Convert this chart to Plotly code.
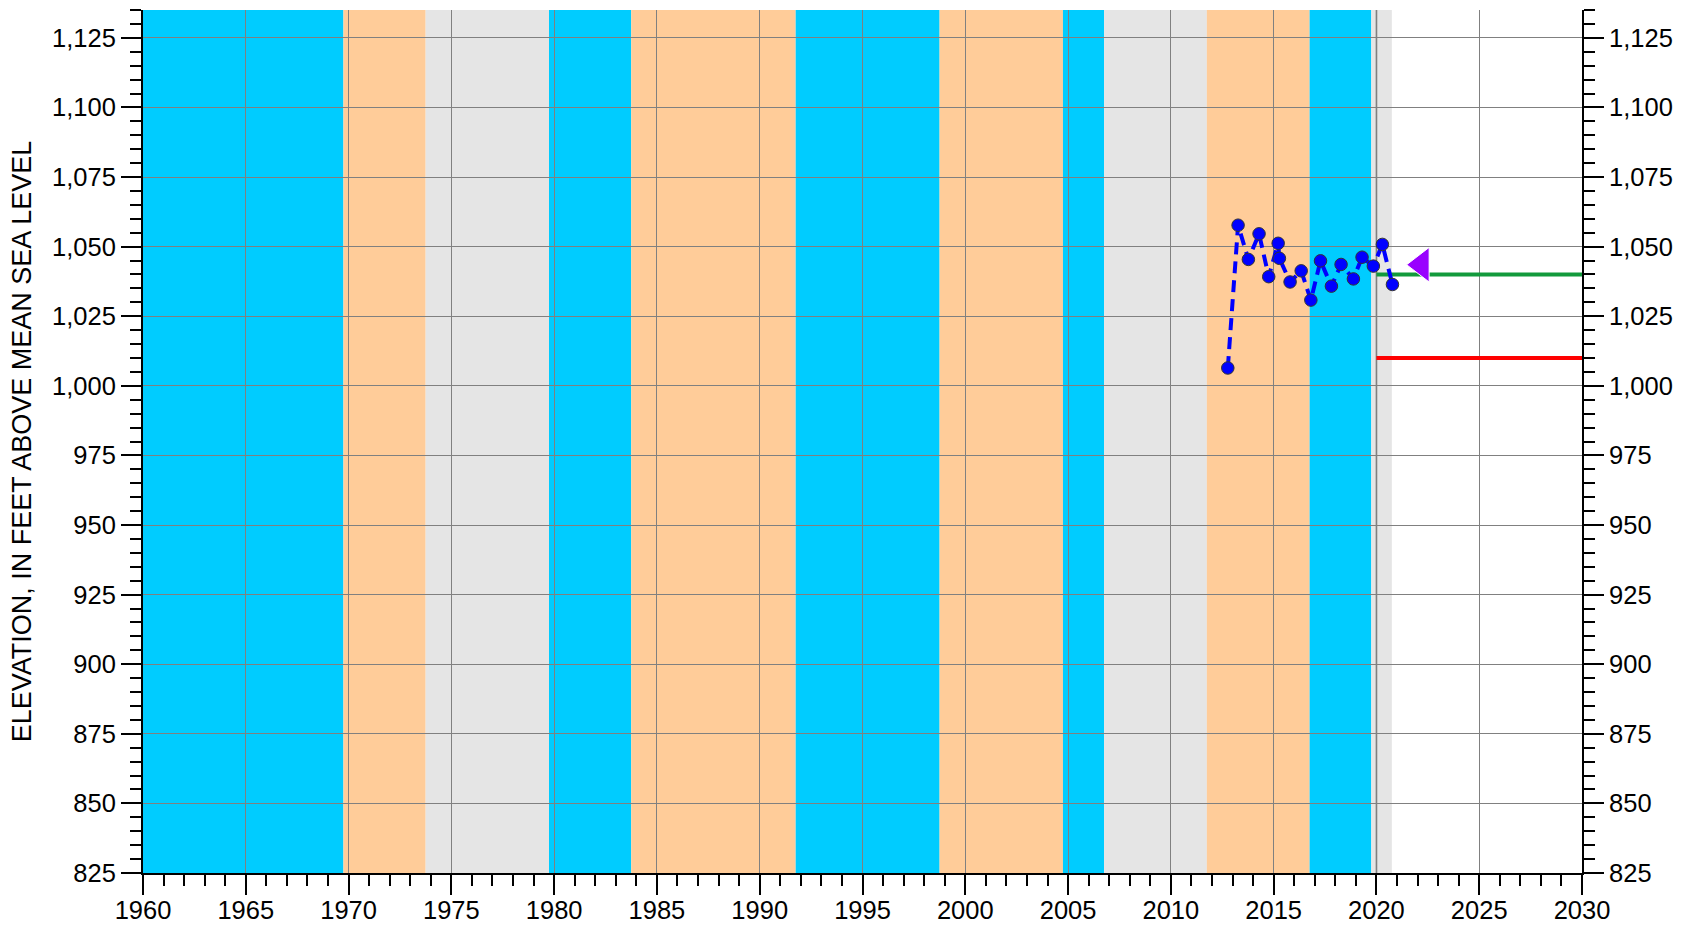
import plotly.graph_objects as go

# Climate-period bands (decimal years) shown behind the hydrograph
band_start = [1960.0, 1969.75, 1973.75, 1979.75, 1983.75, 1991.75, 1998.75,
              2004.75, 2006.75, 2011.75, 2016.75, 2019.75]
band_end = [1969.75, 1973.75, 1979.75, 1983.75, 1991.75, 1998.75, 2004.75,
            2006.75, 2011.75, 2016.75, 2019.75, 2020.75]
band_kind = ["wet", "dry", "normal", "wet", "dry", "wet", "dry",
             "wet", "normal", "dry", "wet", "normal"]
band_colors = {"wet": "#00ccff", "dry": "#ffcc99", "normal": "#e5e5e5"}

# Water-level measurements (decimal year, feet above mean sea level)
meas_year = [2012.77, 2013.27, 2013.77, 2014.29, 2014.76, 2015.22, 2015.28,
             2015.80, 2016.34, 2016.81, 2017.28, 2017.81, 2018.28, 2018.88,
             2019.30, 2019.85, 2020.29, 2020.78]
meas_elev = [1006.4, 1057.7, 1045.4, 1054.6, 1039.2, 1051.2, 1045.8,
             1037.3, 1041.3, 1030.8, 1044.9, 1035.8, 1043.6, 1038.4,
             1046.2, 1043.0, 1050.8, 1036.4]

# Reference levels drawn from 2020 onward
level_years = [2020, 2030]
upper_level = 1040
lower_level = 1010

# Marker for the projected level
proj_year = [2022.2]
proj_elev = [1043.5]

x_range = [1960, 2030]
y_range = [825, 1135]

FONT = "Liberation Sans"

fig = go.Figure()

for x0, x1, kind in zip(band_start, band_end, band_kind):
    fig.add_shape(type="rect", xref="x", yref="paper", x0=x0, x1=x1, y0=0, y1=1,
                  fillcolor=band_colors[kind], line=dict(width=0), layer="below")

fig.add_shape(type="line", xref="x", yref="paper", x0=2020, x1=2020, y0=0, y1=1,
              line=dict(color="#a6a6a6", width=2), layer="between")

fig.add_trace(go.Scatter(x=level_years, y=[upper_level] * 2, mode="lines",
                         line=dict(color="#129a3c", width=4), hoverinfo="skip",
                         showlegend=False))
fig.add_trace(go.Scatter(x=level_years, y=[lower_level] * 2, mode="lines",
                         line=dict(color="#ff0000", width=4), hoverinfo="skip",
                         showlegend=False))

fig.add_trace(go.Scatter(x=meas_year, y=meas_elev, mode="lines+markers",
                         line=dict(color="#0000ff", width=4, dash="12px,7px"),
                         marker=dict(size=12.5, color="#0000ff",
                                     line=dict(color="#333333", width=1)),
                         showlegend=False))

fig.add_trace(go.Scatter(x=proj_year, y=proj_elev, mode="markers",
                         marker=dict(symbol="triangle-left", size=30, color="#9900ff",
                                     line=dict(color="white", width=1)),
                         showlegend=False))

# invisible trace so the right-hand axis is drawn
fig.add_trace(go.Scatter(x=[x_range[0]], y=[y_range[0]], yaxis="y2", mode="markers",
                         marker=dict(opacity=0), hoverinfo="skip", showlegend=False))

tick_font = dict(family=FONT, size=25.5, color="black")

common_y = dict(range=y_range, tick0=825, dtick=25, tickformat=",d",
                ticks="outside", ticklen=20, tickwidth=2, tickcolor="black",
                showline=True, linecolor="black", linewidth=2, zeroline=False,
                tickfont=tick_font, automargin=False,
                minor=dict(dtick=5, tick0=825, ticks="outside", ticklen=11,
                           tickwidth=2, tickcolor="black", showgrid=False))

fig.update_layout(
    width=1687, height=928,
    margin=dict(l=143, r=105, t=10, b=55),
    paper_bgcolor="white", plot_bgcolor="white",
    font=dict(family=FONT, color="black"),
    xaxis=dict(range=x_range, tick0=1960, dtick=5, ticks="outside", ticklen=20,
               tickwidth=2, tickcolor="black", showline=True, linecolor="black",
               linewidth=2, zeroline=False, showgrid=True, gridcolor="#808080",
               gridwidth=1, tickfont=tick_font, automargin=False,
               ticklabelstandoff=-7,
               minor=dict(dtick=1, tick0=1960, ticks="outside", ticklen=11,
                          tickwidth=2, tickcolor="black", showgrid=False)),
    yaxis=dict(**common_y, showgrid=True, gridcolor="#808080", gridwidth=1,
               title=dict(text="ELEVATION, IN FEET ABOVE MEAN SEA LEVEL",
                          font=dict(family=FONT, size=27, color="black"),
                          standoff=13)),
    yaxis2=dict(**common_y, overlaying="y", side="right", showgrid=False),
)

fig.write_html("out.html")
